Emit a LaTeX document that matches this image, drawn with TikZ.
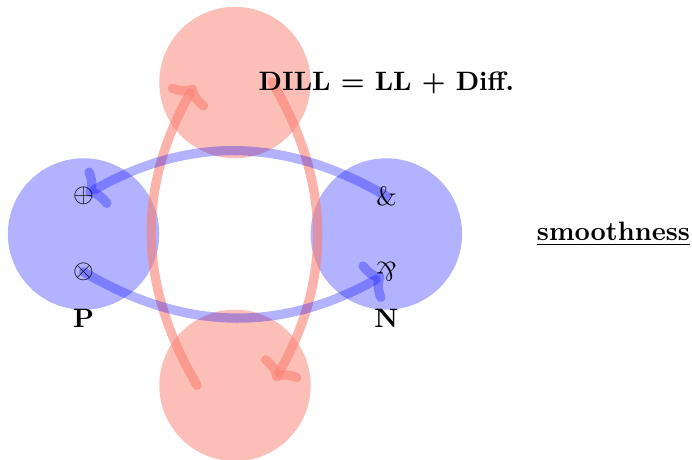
\documentclass[tikz,border=0pt]{standalone}
\usetikzlibrary{arrows.meta}
\definecolor{salmonc}{RGB}{250,128,114}
\tikzset{
  bluedisc/.style={circle,minimum size=2cm,inner sep=0pt,fill=blue,fill opacity=0.3},
  reddisc/.style={circle,minimum size=2cm,inner sep=0pt,fill=salmonc,fill opacity=0.5},
  bigtip/.style={-{Computer Modern Rightarrow[length=7pt,width=17pt,line cap=round]}},
  bluearc/.style={draw=blue,draw opacity=0.3,line width=3.5pt,line cap=round,bigtip},
  redarc/.style={draw=salmonc,draw opacity=0.6,line width=3.5pt,line cap=round,bigtip},
  sym/.style={inner sep=0pt,font=\normalsize},
  lbl/.style={inner sep=0pt,font=\bfseries}
}
\begin{document}
\begin{tikzpicture}
\useasboundingbox (-3.104,-2.985) rectangle (6.037,3.091);
% discs
\node[reddisc] (top) at (0,2) {};
\node[reddisc] (bot) at (0,-2) {};
\node[bluedisc] (P) at (-2,0) {};
\node[bluedisc] (N) at (2,0) {};
% arc end points
\coordinate (ls) at (-0.5,-2);
\coordinate (le) at (-0.53,1.97);
\coordinate (rs) at (0.49,2.01);
\coordinate (re) at (0.52,-1.94);
\coordinate (ts) at (2,0.5);
\coordinate (te) at (-1.97,0.52);
\coordinate (bs) at (-2,-0.5);
\coordinate (be) at (1.97,-0.54);
% arcs
\draw[redarc] (ls) to[bend left=30] (le);
\draw[redarc] (rs) to[bend left=30] (re);
\draw[bluearc] (ts) to[bend right=30] (te);
\draw[bluearc] (bs) to[bend right=30] (be);
% symbols
\node[sym] (oplus) at (-2,0.5) {$\oplus$};
\node[sym] (otimes) at (-2,-0.5) {$\otimes$};
\node[sym] (with) at (2,0.5) {\&};
\node[sym] (parr) at (2,-0.5) {\rotatebox[origin=c]{180}{\&}};
\node[lbl] (Plbl) at (-2,-1.11) {P};
\node[lbl] (Nlbl) at (2,-1.11) {N};
\node[lbl] (dill) at (2,2) {DILL = LL + Diff.};
\node[lbl] (smooth) at (5.0,0) {\underline{smoothness}};
\end{tikzpicture}
\end{document}
